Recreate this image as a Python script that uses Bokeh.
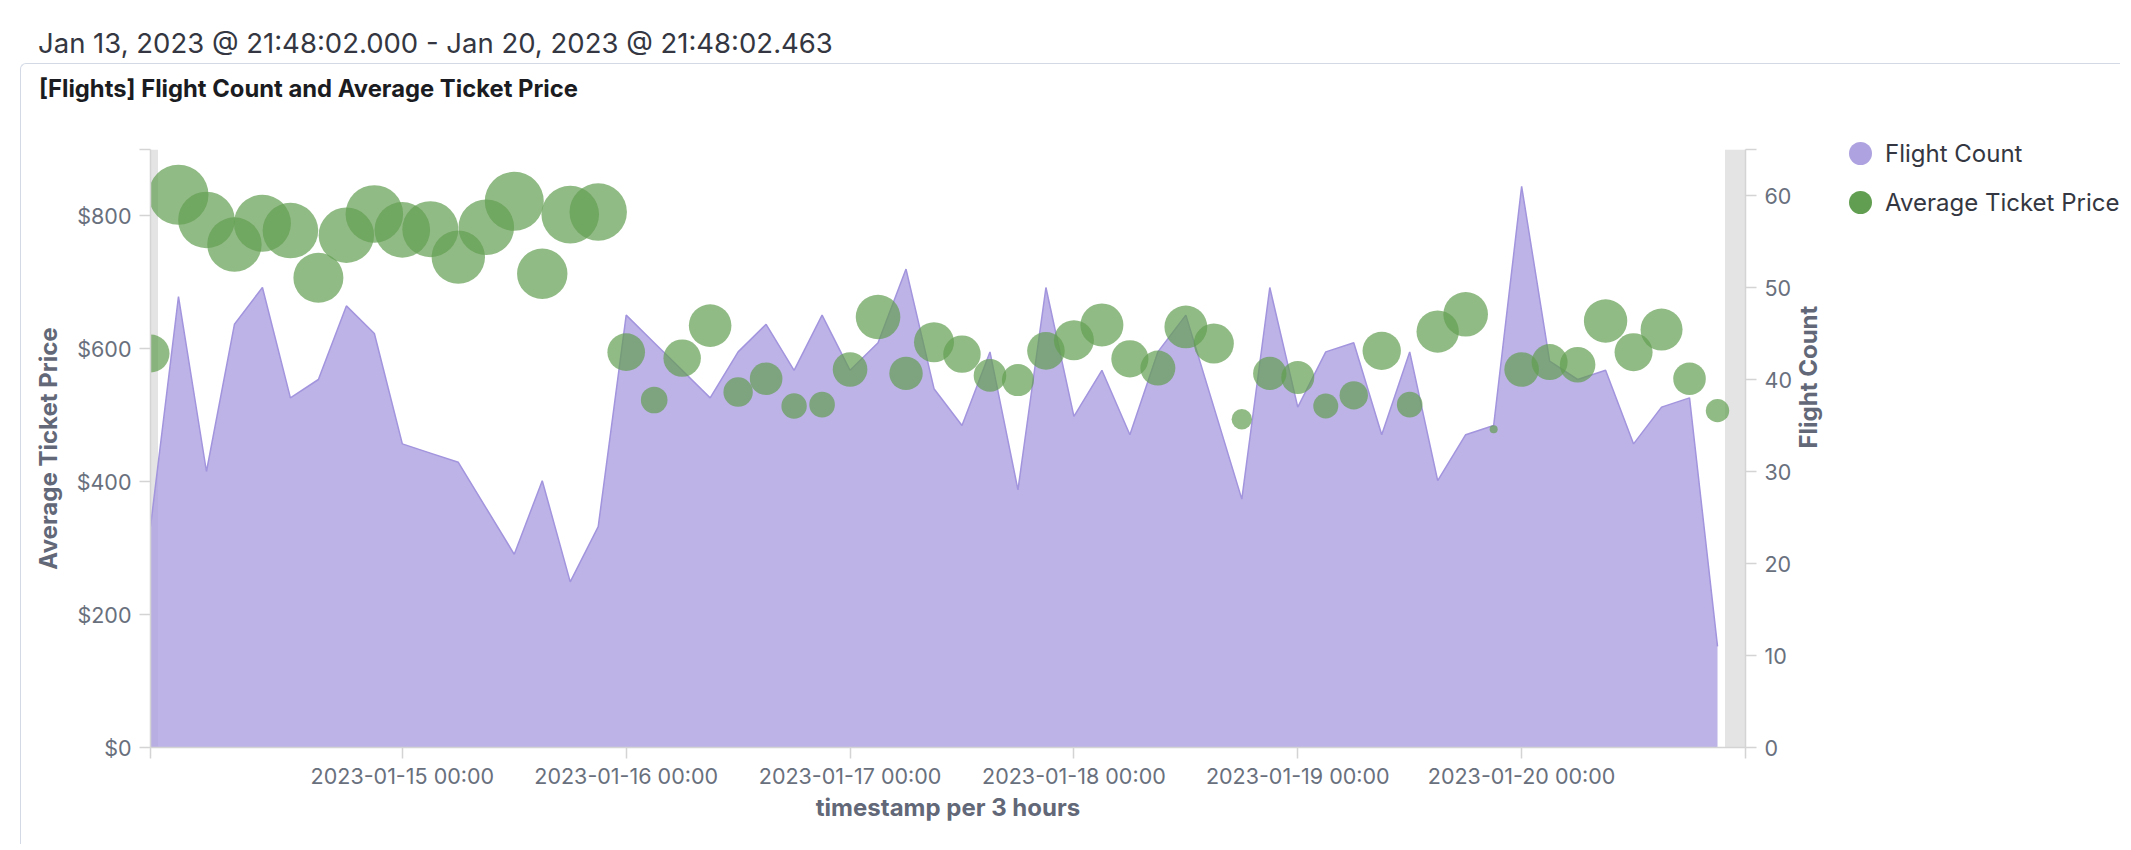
import math
import pandas as pd
from bokeh.plotting import figure
from bokeh.layouts import column, row
from bokeh.models import (Range1d, LinearAxis, DatetimeAxis, FixedTicker, PrintfTickFormatter,
                          DatetimeTickFormatter, ColumnDataSource, BoxAnnotation, Div)
from bokeh.embed import file_html
from bokeh.resources import INLINE

# ---------------- data ----------------
header_text = "Jan 13, 2023 @ 21:48:02.000 - Jan 20, 2023 @ 21:48:02.463"
panel_title = "[Flights] Flight Count and Average Ticket Price"
x_title = "timestamp per 3 hours"
left_title = "Average Ticket Price"
right_title = "Flight Count"

first_bucket = "2023-01-13 21:00"
bucket_freq = "3h"
axis_start = "2023-01-13 21:00"
axis_end = "2023-01-21 00:00"
time_range_start = "2023-01-13 21:48:02.000"
time_range_end = "2023-01-20 21:48:02.463"
day_ticks = ["2023-01-15", "2023-01-16", "2023-01-17", "2023-01-18", "2023-01-19", "2023-01-20"]

flight_count = [24, 49, 30, 46, 50, 38, 40, 48, 45, 33, 32, 31, 26, 21, 29, 18, 24, 47, 44, 41,
                38, 43, 46, 41, 47, 41, 44, 52, 39, 35, 43, 28, 50, 36, 41, 34, 43, 47, 37, 27,
                50, 37, 43, 44, 34, 43, 29, 34, 35, 61, 42, 40, 41, 33, 37, 38, 11]

avg_ticket_price = [593, 832, 794, 757, 789, 778, 707, 771, 803, 779, 780, 738, 783, 822, 713, 802,
                    806, 595, 523, 586, 635, 535, 555, 514, 516, 569, 648, 563, 610, 592, 560, 553,
                    597, 613, 636, 585, 571, 633, 608, 494, 563, 557, 514, 530, 597, 516, 626, 652,
                    479, 569, 580, 576, 642, 595, 629, 555, 507]

bubble_radius = [19, 30, 28.3, 27.2, 28.5, 27.8, 25, 27.7, 28.8, 27.8, 28, 26.7, 27.8, 29.5, 25.2,
                 28.8, 28.7, 18.8, 13.3, 18.7, 21.3, 14.7, 16.3, 12.7, 12.8, 17.3, 22.3, 16.7, 20,
                 18.7, 16.3, 16, 18.8, 20, 21.5, 18.6, 17.5, 21.4, 20, 10.2, 16.7, 16.5, 12.5, 14.2,
                 19.2, 12.8, 21.2, 22.3, 4, 17.3, 18, 17.8, 21.7, 19, 21, 16.3, 11.7]

price_ticks = [0, 200, 400, 600, 800]
price_max = 900
count_ticks = [0, 10, 20, 30, 40, 50, 60]
count_max = 65

series_names = ["Flight Count", "Average Ticket Price"]
series_colors = ["#AEA2E0", "#629E51"]
COUNT_COLOR, PRICE_COLOR = series_colors


def ms(s):
    return pd.Timestamp(s).value / 1e6


stamps = pd.date_range(first_bucket, periods=len(flight_count), freq=bucket_freq)
x_ms = [t.value / 1e6 for t in stamps]

source = ColumnDataSource(dict(
    x=x_ms,
    count=flight_count,
    zero=[0] * len(flight_count),
    price=avg_ticket_price,
    size=[2 * r for r in bubble_radius],
))

# ---------------- main figure ----------------
W, H = 1819, 735
FL, FT, FW, FH = 129, 40, 1598, 598
p = figure(width=W, height=H,
           x_range=Range1d(ms(axis_start), ms(axis_end)),
           y_range=Range1d(0, price_max),
           x_axis_type=None, y_axis_type=None,
           output_backend="svg", toolbar_location=None,
           min_border_left=FL, min_border_right=W - FL - FW,
           min_border_top=FT, min_border_bottom=H - FT - FH, margin=0)
p.extra_y_ranges = {"count": Range1d(0, count_max)}
p.outline_line_color = None
p.xgrid.visible = False
p.ygrid.visible = False

AX_COL = "#D4D4D4"
TICK_LBL = "#69707D"
TITLE_COL = "#626877"


def style_axis(ax):
    ax.axis_line_color = AX_COL
    ax.axis_line_width = 1.5
    ax.major_tick_line_color = AX_COL
    ax.minor_tick_line_color = AX_COL
    ax.major_tick_line_width = 1.5
    ax.minor_tick_line_width = 1.5
    ax.major_tick_out = 11
    ax.major_tick_in = 0
    ax.minor_tick_out = 11
    ax.minor_tick_in = 0
    ax.major_label_text_font = "Inter"
    ax.major_label_text_font_size = "21.5px"
    ax.major_label_text_color = TICK_LBL
    ax.axis_label_text_font = "Inter"
    ax.axis_label_text_font_style = "bold"
    ax.axis_label_text_font_size = "24px"
    ax.axis_label_text_color = TITLE_COL
    ax.major_label_standoff = 8


left = LinearAxis(ticker=FixedTicker(ticks=price_ticks, minor_ticks=[price_max]),
                  formatter=PrintfTickFormatter(format="$%d"),
                  axis_label=left_title)
style_axis(left)
left.axis_label_standoff = 11
p.add_layout(left, "left")

right = LinearAxis(y_range_name="count",
                   ticker=FixedTicker(ticks=count_ticks, minor_ticks=[count_max]),
                   axis_label=right_title)
style_axis(right)
right.axis_label_standoff = 14
right.axis_label_orientation = math.pi / 2
p.add_layout(right, "right")

fmt = "%Y-%m-%d %H:%M"
bottom = DatetimeAxis(ticker=FixedTicker(ticks=[ms(d) for d in day_ticks],
                                         minor_ticks=[ms(axis_start), ms(axis_end)]),
                      formatter=DatetimeTickFormatter(days=fmt, hours=fmt, hourmin=fmt,
                                                      minutes=fmt, months=fmt, years=fmt),
                      axis_label=x_title)
style_axis(bottom)
bottom.major_label_standoff = 4
bottom.axis_label_standoff = 1
p.add_layout(bottom, "below")

# out-of-range shading
for a, b in [(axis_start, time_range_start), (time_range_end, axis_end)]:
    p.add_layout(BoxAnnotation(left=ms(a), right=ms(b), fill_color="#E4E4E4", fill_alpha=1,
                               line_alpha=0, level="underlay"))

# series
p.varea(x="x", y1="zero", y2="count", source=source, y_range_name="count",
        fill_color=COUNT_COLOR, fill_alpha=0.82)
p.line(x="x", y="count", source=source, y_range_name="count",
       line_color="#A394DE", line_width=1.5)
p.scatter(x="x", y="price", size="size", source=source, marker="circle",
          fill_color=PRICE_COLOR, fill_alpha=0.7, line_color=None)

# ---------------- legend (HTML) ----------------
items_html = []
for k, (name, col) in enumerate(zip(series_names, series_colors)):
    cy = 44 + 49 * k
    items_html.append(
        f'<div style="position:absolute;left:8.5px;top:{cy - 11.5}px;width:23px;height:23px;'
        f'border-radius:50%;background:{col}"></div>'
        f'<div style="position:absolute;left:45px;top:{cy - 14.5}px;line-height:29px;'
        f'font-family:Inter;font-size:24px;color:#343741;white-space:nowrap">{name}</div>')
legdiv = Div(text='<div style="position:relative;width:280px;height:200px">'
             + "".join(items_html) + '</div>',
             width=280, height=200, margin=0, align="start")

# ---------------- header texts + panel frame ----------------
hdr = Div(text=('<div style="padding:27px 0 0 38px;font-family:Inter;font-size:27.5px;'
                'line-height:33px;color:#343741;white-space:nowrap">' + header_text + '</div>'),
          width=1200, height=63, margin=0)
ttl = Div(text=('<div style="padding:11px 0 0 18px;font-family:Inter;font-size:23.8px;'
                'font-weight:700;line-height:28px;color:#1A1C21;white-space:nowrap">'
                + panel_title + '</div>'),
          width=1200, height=45, margin=0)
body = row(p, legdiv, margin=0, spacing=0)
panel = column(ttl, body, margin=(0, 0, 0, 20), spacing=0,
               styles={"border-left": "1px solid #D3DAE6", "border-top": "1px solid #D3DAE6",
                       "border-top-left-radius": "6px"})
page = column(hdr, panel, margin=0, spacing=0)

open("out.html", "w").write(file_html(page, INLINE))
